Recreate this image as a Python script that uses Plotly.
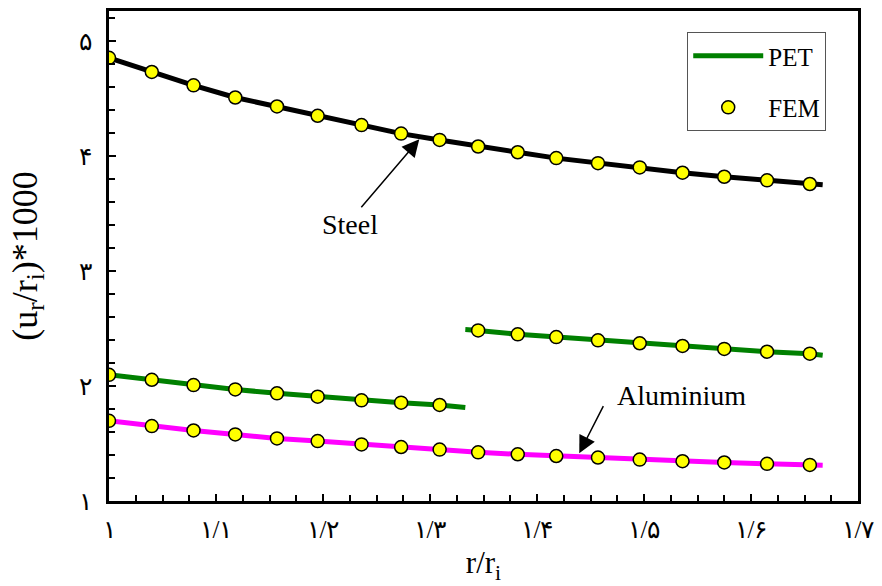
import plotly.graph_objects as go

# ---- data ----
r_fem = [1.000, 1.040, 1.079, 1.118, 1.157, 1.195, 1.236, 1.273, 1.309,
         1.345, 1.382, 1.418, 1.457, 1.496, 1.536, 1.575, 1.615, 1.655]

steel_fem = [4.853, 4.730, 4.614, 4.508, 4.430, 4.349, 4.268, 4.194, 4.139,
             4.082, 4.032, 3.981, 3.937, 3.900, 3.854, 3.819, 3.788, 3.756]
alu_fem = [1.697, 1.651, 1.613, 1.579, 1.544, 1.521, 1.492, 1.469, 1.447,
           1.423, 1.406, 1.391, 1.378, 1.360, 1.346, 1.335, 1.323, 1.314]
comp_in_fem = [2.097, 2.054, 2.008, 1.970, 1.936, 1.907, 1.875, 1.855, 1.835]
comp_out_fem = [2.483, 2.449, 2.425, 2.397, 2.371, 2.348, 2.322, 2.298, 2.281]

# PET curves (theory)
r_full = r_fem + [1.667]
steel_pet = steel_fem + [3.750]
alu_pet = alu_fem + [1.311]
r_in = r_fem[:9] + [1.333]
comp_in_pet = comp_in_fem + [1.812]
r_out = [1.333] + r_fem[9:] + [1.667]
comp_out_pet = [2.490] + comp_out_fem + [2.267]

x_ticks = [1.0, 1.1, 1.2, 1.3, 1.4, 1.5, 1.6, 1.7]
x_labels = ["۱", "۱/۱", "۱/۲", "۱/۳", "۱/۴", "۱/۵", "۱/۶", "۱/۷"]
y_ticks = [1, 2, 3, 4, 5]
y_labels = ["۱", "۲", "۳", "۴", "۵"]

FONT = "Liberation Serif"
LW = 5

fig = go.Figure()
fig.add_trace(go.Scatter(x=r_full, y=steel_pet, mode="lines",
                         line=dict(color="black", width=LW), showlegend=False))
fig.add_trace(go.Scatter(x=r_full, y=alu_pet, mode="lines",
                         line=dict(color="#FF00FF", width=LW), showlegend=False))
fig.add_trace(go.Scatter(x=r_in, y=comp_in_pet, mode="lines", name="PET",
                         legendgroup="a",
                         line=dict(color="#008000", width=LW), showlegend=True))
fig.add_trace(go.Scatter(x=r_out, y=comp_out_pet, mode="lines",
                         line=dict(color="#008000", width=LW), showlegend=False))

mk = dict(symbol="circle", size=13, color="#FFFF00",
          line=dict(color="black", width=1.5))
fig.add_trace(go.Scatter(x=r_fem, y=steel_fem, mode="markers", marker=mk,
                         name="FEM", legendgroup="b", showlegend=True))
fig.add_trace(go.Scatter(x=r_fem, y=alu_fem, mode="markers", marker=mk,
                         showlegend=False))
fig.add_trace(go.Scatter(x=r_fem[:9], y=comp_in_fem, mode="markers", marker=mk,
                         showlegend=False))
fig.add_trace(go.Scatter(x=r_fem[9:], y=comp_out_fem, mode="markers", marker=mk,
                         showlegend=False))

# annotations
fig.add_annotation(x=1.290, y=4.145, ax=1.2346, ay=3.540, axref="x", ayref="y",
                   text="", showarrow=True, arrowhead=2, arrowsize=2.3,
                   arrowwidth=1.5, arrowcolor="black")
fig.add_annotation(x=1.2253, y=3.40, text="Steel", showarrow=False,
                   font=dict(family=FONT, size=28, color="black"))
fig.add_annotation(x=1.4395, y=1.415, ax=1.4627, ay=1.838, axref="x", ayref="y",
                   text="", showarrow=True, arrowhead=2, arrowsize=2.3,
                   arrowwidth=1.5, arrowcolor="black")
fig.add_annotation(x=1.535, y=1.916, text="Aluminium", showarrow=False,
                   font=dict(family=FONT, size=28, color="black"))

fig.update_xaxes(range=[1.0, 1.7], tickvals=x_ticks, ticktext=x_labels,
                 ticks="inside", ticklen=7, tickwidth=2, tickcolor="black",
                 minor=dict(dtick=0.025, ticks="inside", ticklen=6, tickwidth=2,
                            tickcolor="black"),
                 showline=True, linecolor="black", linewidth=3, mirror=True,
                 showgrid=False, zeroline=False, ticklabelstandoff=4,
                 tickfont=dict(family=FONT, size=25, color="black"),
                 title=dict(text="r/r<sub>i</sub>", standoff=10,
                            font=dict(family=FONT, size=31, color="black")))
fig.update_yaxes(range=[1.0, 5.26], tickvals=y_ticks, ticktext=y_labels,
                 ticks="inside", ticklen=7, tickwidth=2, tickcolor="black",
                 minor=dict(dtick=0.2, ticks="inside", ticklen=6, tickwidth=2,
                            tickcolor="black"),
                 showline=True, linecolor="black", linewidth=3, mirror=True,
                 showgrid=False, zeroline=False, ticklabelstandoff=9,
                 tickfont=dict(family=FONT, size=25, color="black"),
                 title=dict(text="(u<sub>r</sub>/r<sub>i</sub>)*1000", standoff=31,
                            font=dict(family=FONT, size=36, color="black")))

fig.update_layout(
    width=882, height=586,
    margin=dict(l=109, r=18, t=8, b=85),
    plot_bgcolor="white", paper_bgcolor="white",
    legend=dict(x=0.772, y=0.957, xanchor="left", yanchor="top",
                bgcolor="white", bordercolor="#555555", borderwidth=1,
                tracegroupgap=16, traceorder="grouped", itemwidth=70,
                font=dict(family=FONT, size=25, color="black")),
)

fig.write_html("out.html")
